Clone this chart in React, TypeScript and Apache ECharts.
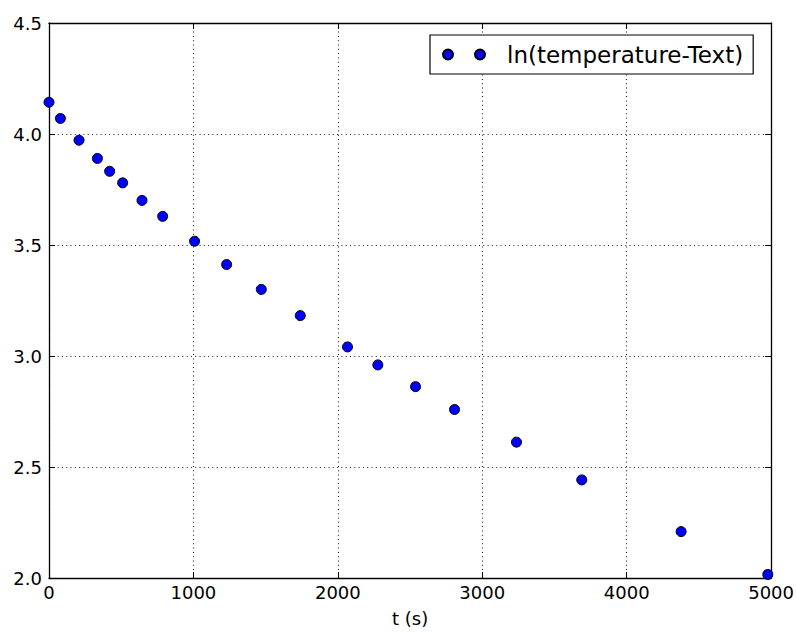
import React, { useEffect, useRef } from "react";
import * as echarts from "echarts";

const timeSeconds: number[] = [0, 79, 208, 335, 420, 510, 644, 787, 1008, 1230, 1470, 1740, 2067, 2277, 2538, 2808, 3237, 3689, 4377, 4977];
const lnTempDiff: number[] = [4.143, 4.07, 3.972, 3.89, 3.832, 3.78, 3.701, 3.629, 3.517, 3.412, 3.3, 3.182, 3.041, 2.96, 2.862, 2.759, 2.612, 2.442, 2.209, 2.016];
const seriesName = "ln(temperature-Text)";
const xAxisName = "t (s)";
const xRange = { min: 0, max: 5000, interval: 1000 };
const yRange = { min: 2.0, max: 4.5, interval: 0.5 };

const FONT = "DejaVu Sans";

export default function App() {
  const ref = useRef<HTMLDivElement>(null);
  useEffect(() => {
    document.body.style.margin = "0";
    if (!ref.current) return;
    const chart = echarts.init(ref.current, undefined, { renderer: "svg" });
    const data = timeSeconds.map((t, i) => [t, lnTempDiff[i]]);
    const axisLine = { show: true, onZero: false, lineStyle: { color: "#000", width: 1.3 } };
    const tick = { show: true, inside: true, length: 6, lineStyle: { color: "#000", width: 1 } };
    const grid = { show: true, lineStyle: { color: "#222", width: 1.1, type: [1, 3.3] as any } };
    const label = { color: "#000", fontFamily: FONT, fontSize: 18 };
    chart.setOption({
      animation: false,
      backgroundColor: "#fff",
      grid: { left: 49, right: 25, top: 23, bottom: 49, containLabel: false },
      xAxis: [
        {
          type: "value", position: "bottom", ...xRange,
          axisLine, axisTick: tick, splitLine: grid,
          axisLabel: { ...label, margin: 5, formatter: (v: number) => String(v) },
          name: xAxisName, nameLocation: "middle", nameGap: 31,
          nameTextStyle: { color: "#000", fontFamily: FONT, fontSize: 18 },
        },
        {
          type: "value", position: "top", ...xRange,
          axisLine, axisTick: tick, splitLine: { show: false }, axisLabel: { show: false },
        },
      ],
      yAxis: [
        {
          type: "value", position: "left", ...yRange,
          axisLine, axisTick: tick, splitLine: grid,
          axisLabel: { ...label, margin: 7, formatter: (v: number) => v.toFixed(1) },
        },
        {
          type: "value", position: "right", ...yRange,
          axisLine, axisTick: tick, splitLine: { show: false }, axisLabel: { show: false },
        },
      ],
      legend: {
        left: 430, top: 35,
        padding: [8, 10, 8, 12],
        backgroundColor: "#fff",
        borderColor: "#000", borderWidth: 1.2, borderRadius: 0,
        itemWidth: 42, itemHeight: 10,
        icon: "path://M5,0 A5,5 0 1,1 5,10 A5,5 0 1,1 5,0 Z M37,0 A5,5 0 1,1 37,10 A5,5 0 1,1 37,0 Z",
        textStyle: { color: "#000", fontFamily: FONT, fontSize: 23, padding: [0, 0, 0, 17] },
        data: [seriesName],
      },
      series: [
        {
          name: seriesName,
          type: "scatter",
          xAxisIndex: 0, yAxisIndex: 0,
          symbol: "circle", symbolSize: 10,
          itemStyle: { color: "#0000ff", borderColor: "#000", borderWidth: 1, opacity: 1 },
          data,
          clip: true,
        },
      ],
    });
    return () => chart.dispose();
  }, []);
  return <div ref={ref} style={{ width: 797, height: 632 }} />;
}
